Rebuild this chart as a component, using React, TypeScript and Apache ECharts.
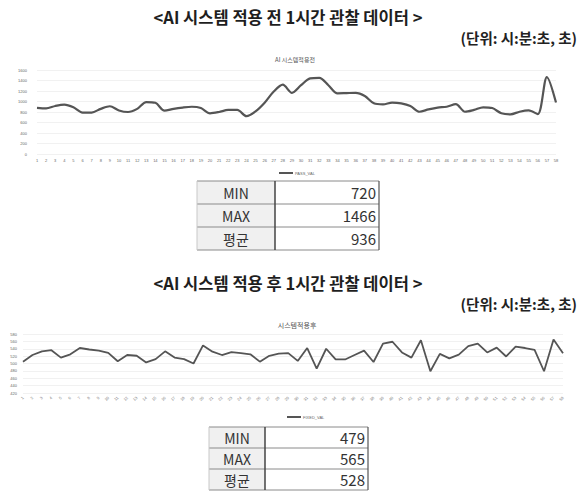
import React, { useEffect, useRef } from "react";
import * as echarts from "echarts";

const categories = [
  "1","2","3","4","5","6","7","8","9","10","11","12","13","14","15","16","17","18","19","20",
  "21","22","23","24","25","26","27","28","29","30","31","32","33","34","35","36","37","38","39","40",
  "41","42","43","44","45","46","47","48","49","50","51","52","53","54","55","56","57","58",
];

const beforeValues = [
  880, 870, 915, 940, 890, 790, 790, 860, 910, 830,
  800, 860, 990, 975, 825, 860, 885, 900, 875, 775,
  800, 840, 840, 720, 810, 975, 1190, 1320, 1165, 1310,
  1440, 1450, 1310, 1155, 1160, 1165, 1105, 965, 945, 980,
  965, 915, 805, 850, 885, 900, 950, 805, 840, 890,
  875, 775, 755, 805, 830, 760, 1466, 980,
];

const afterValues = [
  505, 523, 533, 536, 516, 525, 542, 538, 535, 529,
  506, 523, 521, 503, 512, 533, 516, 512, 500, 549,
  532, 523, 531, 528, 525, 505, 521, 527, 528, 507,
  542, 486, 540, 511, 511, 523, 535, 504, 554, 559,
  530, 516, 563, 479, 526, 514, 524, 547, 554, 530,
  543, 519, 546, 542, 537, 479, 565, 528,
];

const statLabels = ["MIN", "MAX", "평균"];
const beforeStats = [720, 1466, 936];
const afterStats = [479, 565, 528];

const mainTitles = [
  "<AI 시스템 적용 전 1시간 관찰 데이터 >",
  "<AI 시스템 적용 후 1시간 관찰 데이터 >",
];
const unitText = "(단위: 시:분:초, 초)";
const chartTitles = ["AI 시스템적용전", "시스템적용후"];
const seriesNames = ["PASS_VAL", "FIXED_VAL"];

const FONT = "'Noto Sans CJK KR', 'Noto Sans', sans-serif";

function buildTable(left: number, top: number, labelW: number, valueW: number, rowH: number, values: number[], fontSize: number) {
  const els: any[] = [];
  const totalW = labelW + valueW;
  const totalH = rowH * statLabels.length;
  els.push({ type: "rect", shape: { x: left, y: top, width: labelW, height: totalH }, style: { fill: "#f0f0f0" }, silent: true });
  els.push({ type: "rect", shape: { x: left + labelW, y: top, width: valueW, height: totalH }, style: { fill: "#ffffff" }, silent: true });
  for (let i = 0; i <= statLabels.length; i++) {
    els.push({ type: "line", shape: { x1: left, y1: top + i * rowH, x2: left + totalW, y2: top + i * rowH }, style: { stroke: "#8a8a8a", lineWidth: 1 }, silent: true });
  }
  els.push({ type: "line", shape: { x1: left, y1: top, x2: left, y2: top + totalH }, style: { stroke: "#c8c8c8", lineWidth: 1 }, silent: true });
  els.push({ type: "line", shape: { x1: left + labelW, y1: top, x2: left + labelW, y2: top + totalH }, style: { stroke: "#444", lineWidth: 1.5 }, silent: true });
  els.push({ type: "line", shape: { x1: left + totalW, y1: top, x2: left + totalW, y2: top + totalH }, style: { stroke: "#555", lineWidth: 1.2 }, silent: true });
  statLabels.forEach((lab, i) => {
    els.push({ type: "text", style: { text: lab, x: left + labelW / 2, y: top + i * rowH + rowH / 2, align: "center", verticalAlign: "middle", fill: "#333", font: `${fontSize}px ${FONT}` }, silent: true });
    els.push({ type: "text", style: { text: String(values[i]), x: left + totalW - 3, y: top + i * rowH + rowH / 2, align: "right", verticalAlign: "middle", fill: "#333", font: `${fontSize + 1}px ${FONT}` }, silent: true });
  });
  return els;
}

export default function App() {
  const ref = useRef<HTMLDivElement>(null);
  useEffect(() => {
    if (!ref.current) return;
    const chart = echarts.init(ref.current, undefined, { renderer: "svg" });
    const graphics: any[] = [
      { type: "text", style: { text: mainTitles[0], x: 288, y: 17, align: "center", verticalAlign: "middle", fill: "#1e1e1e", font: `bold 16.5px ${FONT}` } },
      { type: "text", style: { text: unitText, x: 577, y: 37, align: "right", verticalAlign: "middle", fill: "#222", font: `bold 14.5px ${FONT}` } },
      { type: "text", style: { text: mainTitles[1], x: 288, y: 283, align: "center", verticalAlign: "middle", fill: "#1e1e1e", font: `bold 16.5px ${FONT}` } },
      { type: "text", style: { text: unitText, x: 577, y: 303, align: "right", verticalAlign: "middle", fill: "#222", font: `bold 14.5px ${FONT}` } },
      ...buildTable(197, 181, 78, 104, 23, beforeStats, 14),
      ...buildTable(209, 427, 56, 103, 21, afterStats, 14),
    ];
    chart.setOption({
      animation: false,
      backgroundColor: "#ffffff",
      title: [
        { text: chartTitles[0], left: 290, top: 51, textAlign: "center", textStyle: { fontSize: 6, color: "#555", fontWeight: "normal", fontFamily: FONT } },
        { text: chartTitles[1], left: 292, top: 316, textAlign: "center", textStyle: { fontSize: 7, color: "#555", fontWeight: "normal", fontFamily: FONT } },
      ],
      legend: [
        { data: [seriesNames[0]], left: 274, top: 166, itemWidth: 14, itemHeight: 2, itemGap: 2, icon: "rect", textStyle: { fontSize: 4, color: "#666", padding: [0, 0, 0, -3] } },
        { data: [seriesNames[1]], left: 282, top: 410, itemWidth: 14, itemHeight: 2, itemGap: 2, icon: "rect", textStyle: { fontSize: 4, color: "#666", padding: [0, 0, 0, -3] } },
      ],
      grid: [
        { left: 37, right: 26, top: 70, bottom: 341 },
        { left: 23, right: 19, top: 334, bottom: 102 },
      ],
      xAxis: [
        {
          gridIndex: 0, type: "category", data: categories, boundaryGap: false,
          axisLine: { show: false }, axisTick: { show: false },
          axisLabel: { fontSize: 4, color: "#666", margin: 4, interval: 0 },
        },
        {
          gridIndex: 1, type: "category", data: categories, boundaryGap: false,
          axisLine: { show: false }, axisTick: { show: false },
          axisLabel: { fontSize: 4, color: "#777", margin: 4, interval: 0, rotate: 45 },
        },
      ],
      yAxis: [
        {
          gridIndex: 0, type: "value", min: 0, max: 1600, interval: 200,
          axisLine: { show: false }, axisTick: { show: false },
          axisLabel: { fontSize: 4, color: "#666", margin: 10, formatter: (v: number) => String(v) },
          splitLine: { lineStyle: { color: "#ededed", width: 0.8 } },
        },
        {
          gridIndex: 1, type: "value", min: 420, max: 580, interval: 20,
          axisLine: { show: false }, axisTick: { show: false },
          axisLabel: { fontSize: 4, color: "#666", margin: 6, formatter: (v: number) => String(v) },
          splitLine: { lineStyle: { color: "#ededed", width: 0.8 } },
        },
      ],
      series: [
        {
          name: seriesNames[0], type: "line", xAxisIndex: 0, yAxisIndex: 0, data: beforeValues,
          smooth: 0.3, symbol: "none", lineStyle: { color: "#555", width: 2.2 }, itemStyle: { color: "#555" },
        },
        {
          name: seriesNames[1], type: "line", xAxisIndex: 1, yAxisIndex: 1, data: afterValues,
          symbol: "none", lineStyle: { color: "#555", width: 1.8 }, itemStyle: { color: "#555" },
        },
      ],
      graphic: graphics,
    });
    return () => chart.dispose();
  }, []);
  return <div ref={ref} style={{ position: "fixed", left: 0, top: 0, width: 582, height: 495 }} />;
}
